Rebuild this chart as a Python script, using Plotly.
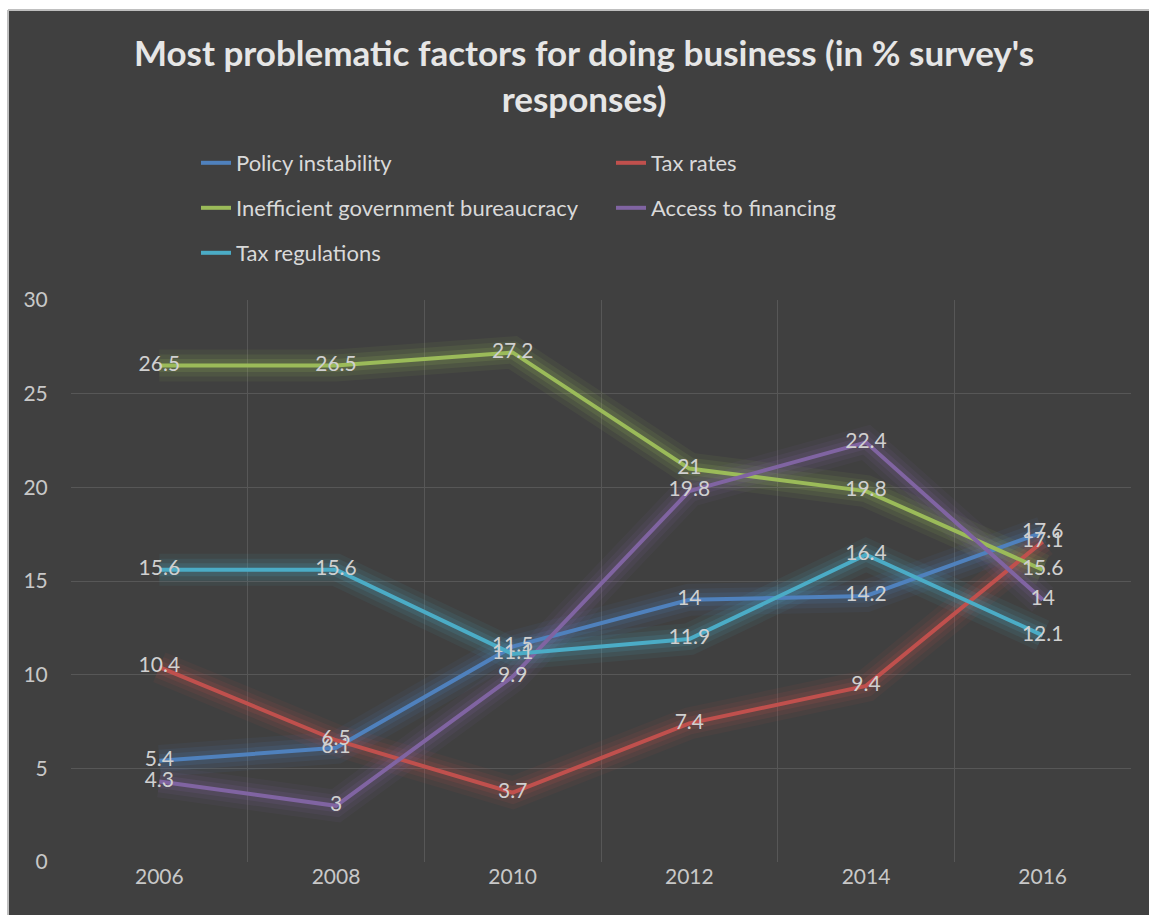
import plotly.graph_objects as go

years = ["2006", "2008", "2010", "2012", "2014", "2016"]
series_names = ["Policy instability", "Tax rates", "Inefficient government bureaucracy",
                "Access to financing", "Tax regulations"]
policy_instability = [5.4, 6.1, 11.5, 14, 14.2, 17.6]
tax_rates = [10.4, 6.5, 3.7, 7.4, 9.4, 17.1]
inefficient_bureaucracy = [26.5, 26.5, 27.2, 21, 19.8, 15.6]
access_to_financing = [4.3, 3, 9.9, 19.8, 22.4, 14]
tax_regulations = [15.6, 15.6, 11.1, 11.9, 16.4, 12.1]
colors = ["#4F81BD", "#C0504D", "#9BBB59", "#8064A2", "#4BACC6"]
legend_ids = ["legend", "legend", "legend2", "legend2", "legend3"]

values = [policy_instability, tax_rates, inefficient_bureaucracy, access_to_financing, tax_regulations]

W, H = 1149, 915
ML, MR, MT, MB = 71, 18, 300, 53
PW, PH = W - ML - MR, H - MT - MB

def px_x(p):
    return (p - ML) / PW

def px_y(p):
    return (H - MB - p) / PH

fig = go.Figure()

# glow layers
for vals, col in zip(values, colors):
    for w, op in [(32, 0.07), (22, 0.10), (13, 0.15)]:
        fig.add_trace(go.Scatter(x=years, y=vals, mode="lines",
                                 line=dict(color=col, width=w, shape="linear"),
                                 opacity=op, showlegend=False, hoverinfo="skip"))

for name, vals, col, lg in zip(series_names, values, colors, legend_ids):
    fig.add_trace(go.Scatter(x=years, y=vals, mode="lines+text", name=name,
                             line=dict(color=col, width=4),
                             text=[str(v) for v in vals],
                             textposition="middle center",
                             textfont=dict(family="Lato", size=21, color="#d0d0d0"),
                             legend=lg))

legend_common = dict(orientation="h", entrywidth=370, entrywidthmode="pixels",
                     bgcolor="rgba(0,0,0,0)", xanchor="left", yanchor="middle",
                     font=dict(family="Lato", size=22, color="#d9d9d9"))

fig.update_layout(
    width=W, height=H,
    margin=dict(l=ML, r=MR, t=MT, b=MB),
    paper_bgcolor="#404040",
    plot_bgcolor="#404040",
    title=dict(text="<b>Most problematic factors for doing business (in % survey's<br>responses)</b>",
               x=584 / W, xanchor="center", y=1 - 66 / H, yanchor="middle",
               font=dict(family="Lato", size=35, color="#e6e6e6")),
    legend=dict(x=px_x(196), y=px_y(163), **legend_common),
    legend2=dict(x=px_x(196), y=px_y(208), **legend_common),
    legend3=dict(x=px_x(196), y=px_y(253), **legend_common),
    xaxis=dict(type="category", tickson="boundaries", range=[-0.5, 5.5],
               showgrid=True, gridcolor="#575757",
               gridwidth=1, ticks="", showline=False, zeroline=False,
               tickfont=dict(family="Lato", size=21, color="#c8c8c8")),
    yaxis=dict(range=[0, 30], dtick=5, showgrid=True, gridcolor="#575757", gridwidth=1,
               zeroline=False, showline=False, ticks="outside", ticklen=18,
               tickcolor="rgba(0,0,0,0)",
               tickfont=dict(family="Lato", size=21, color="#c8c8c8")),
    showlegend=True,
)

# white strips at top and left edge (page margin of the original image)
fig.add_shape(type="rect", xref="paper", yref="paper",
              x0=px_x(-5), x1=px_x(W + 5), y0=px_y(10), y1=px_y(-5),
              fillcolor="white", line=dict(width=0), layer="below")
fig.add_shape(type="rect", xref="paper", yref="paper",
              x0=px_x(-5), x1=px_x(8), y0=px_y(H + 5), y1=px_y(-5),
              fillcolor="white", line=dict(width=0), layer="below")
fig.add_shape(type="line", xref="paper", yref="paper",
              x0=px_x(8), x1=px_x(W + 5), y0=px_y(10), y1=px_y(10),
              line=dict(color="#bfbfbf", width=2), layer="below")
fig.add_shape(type="line", xref="paper", yref="paper",
              x0=px_x(8), x1=px_x(8), y0=px_y(10), y1=px_y(H + 5),
              line=dict(color="#bfbfbf", width=2), layer="below")

fig.write_html("out.html")
